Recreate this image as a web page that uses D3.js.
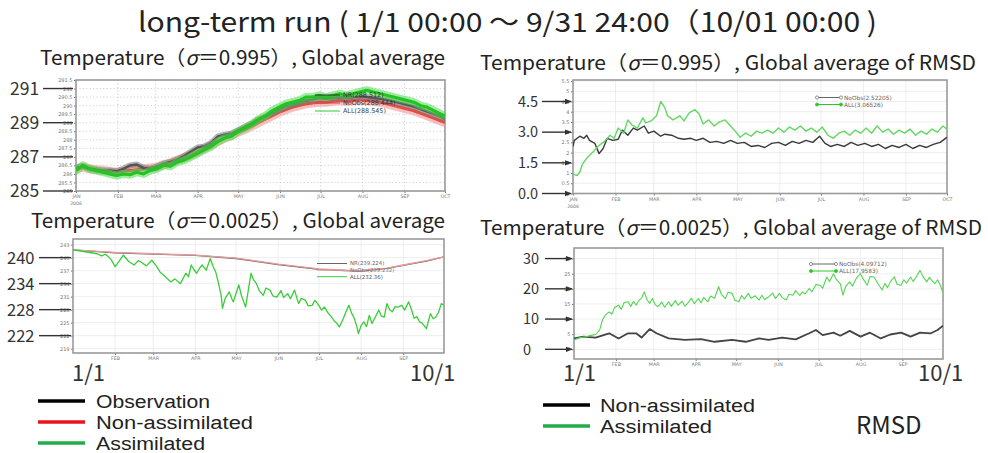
<!DOCTYPE html>
<html>
<head>
<meta charset="utf-8">
<script src="https://cdn.jsdelivr.net/npm/d3@7"></script>
<style>
  body { margin: 0; background: #fff; }
  svg { display: block; font-family: "Noto Sans CJK JP", "Noto Sans", sans-serif; }
</style>
</head>
<body>
<svg id="viz"></svg>
<script>
// ---- data (day = days since 1 Jan 2006) ----
const monthNames = ["JAN", "FEB", "MAR", "APR", "MAY", "JUN", "JUL", "AUG", "SEP", "OCT"];

// sigma = 0.995 temperature, global average (K)
const p1Days = [0, 5, 10, 15, 20, 25, 30, 35, 40, 45, 50, 55, 60, 65, 70, 75, 80, 85, 90, 95, 100, 105, 110, 115, 120, 125, 130, 135,
  140, 145, 150, 155, 160, 165, 170, 175, 180, 185, 190, 195, 200, 205, 210, 215, 220, 225, 230, 235, 240, 245, 250, 255, 260, 265, 270, 273];
const p1NR = [286.35, 286.45, 286.3, 286.25, 286.2, 286.2, 286.15, 286.3, 286.5, 286.55, 286.35, 286.3, 286.45, 286.6, 286.7, 286.85, 287.05,
  287.3, 287.55, 287.6, 287.8, 288.2, 288.3, 288.35, 288.55, 288.75, 288.95, 289.2, 289.35, 289.55, 289.75, 289.95, 290.05, 290.15, 290.3,
  290.35, 290.45, 290.4, 290.45, 290.5, 290.45, 290.5, 290.55, 290.5, 290.45, 290.4, 290.35, 290.25, 290.15, 290.05, 289.95, 289.8, 289.65,
  289.5, 289.35, 289.2];
const p1NoObs = [286.3, 286.4, 286.3, 286.25, 286.2, 286.15, 286.1, 286.15, 286.2, 286.25, 286.3, 286.35, 286.4, 286.55, 286.65, 286.8,
  286.95, 287.1, 287.3, 287.5, 287.7, 287.9, 288.1, 288.25, 288.45, 288.6, 288.8, 289.0, 289.2, 289.4, 289.6, 289.75, 289.9, 290.0, 290.1,
  290.15, 290.2, 290.2, 290.25, 290.3, 290.25, 290.3, 290.35, 290.3, 290.25, 290.2, 290.1, 290.0, 289.9, 289.8, 289.7, 289.55, 289.4,
  289.25, 289.1, 289.0];
const p1All = [286.2, 286.5, 286.3, 286.2, 286.1, 286.0, 285.9, 286.0, 285.95, 286.1, 286.0, 286.2, 286.3, 286.5, 286.45, 286.7, 286.8,
  287.0, 287.2, 287.4, 287.6, 287.9, 288.1, 288.2, 288.5, 288.7, 288.9, 289.2, 289.4, 289.7, 289.9, 290.1, 290.2, 290.3, 290.5, 290.5,
  290.6, 290.5, 290.6, 290.7, 290.6, 290.7, 290.8, 290.9, 290.8, 290.7, 290.6, 290.5, 290.4, 290.3, 290.2, 290.0, 289.9, 289.7, 289.5, 289.4];

// sigma = 0.995, global average of RMSD
const p2NoObs = [[0, 2.3], [1, 2.6], [5, 2.8], [8, 2.7], [10, 2.85], [12, 2.6], [16, 2.45], [19, 1.95], [22, 2.2], [25, 2.7], [29, 2.6],
  [33, 2.65], [36, 3.1], [40, 2.85], [44, 3.2], [47, 3.1], [52, 3.3], [55, 2.95], [59, 3.05], [64, 2.8], [67, 2.9], [72, 2.85], [77, 2.7],
  [81, 2.65], [86, 2.7], [90, 2.6], [95, 2.7], [100, 2.5], [105, 2.55], [110, 2.45], [115, 2.6], [120, 2.45], [125, 2.5], [130, 2.3],
  [135, 2.35], [140, 2.25], [145, 2.45], [150, 2.5], [155, 2.35], [160, 2.55], [165, 2.45], [170, 2.6], [175, 2.5], [180, 2.8], [184, 2.45],
  [188, 2.3], [193, 2.4], [198, 2.3], [203, 2.5], [208, 2.35], [213, 2.45], [218, 2.3], [223, 2.4], [228, 2.2], [233, 2.35], [238, 2.25],
  [243, 2.4], [248, 2.2], [253, 2.35], [258, 2.25], [263, 2.4], [268, 2.5], [273, 2.75]];
const p2All = [[0, 0.95], [3, 0.88], [5, 1.05], [7, 1.45], [11, 1.8], [15, 2.05], [18, 2.3], [23, 2.55], [27, 2.85], [30, 2.7], [33, 3.2],
  [37, 2.95], [40, 3.6], [43, 3.35], [47, 3.2], [51, 3.7], [53, 3.45], [57, 3.55], [61, 3.8], [64, 4.5], [67, 4.2], [69, 3.8], [73, 3.6],
  [78, 3.8], [81, 3.55], [85, 3.95], [89, 4.1], [92, 3.9], [95, 3.4], [99, 3.6], [103, 3.3], [107, 3.5], [111, 3.6], [115, 3.3], [119, 3.0],
  [122, 2.75], [126, 2.95], [130, 2.8], [134, 3.05], [138, 2.95], [142, 3.1], [146, 2.95], [150, 3.2], [154, 3.0], [158, 3.25], [162, 3.1],
  [166, 3.3], [170, 3.05], [174, 3.2], [178, 3.0], [182, 3.25], [186, 2.85], [190, 2.7], [194, 2.95], [198, 3.05], [202, 2.85], [206, 3.1],
  [210, 2.95], [214, 3.2], [218, 2.95], [222, 3.3], [226, 3.0], [230, 3.15], [234, 2.9], [238, 3.1], [242, 2.95], [246, 3.15], [250, 2.85],
  [254, 3.05], [258, 2.9], [262, 3.15], [266, 3.0], [270, 3.3], [273, 3.15]];

// sigma = 0.0025 temperature, global average (K)
const p3NR = [[0, 241.8], [31, 241.1], [60, 240.8], [90, 240.5], [120, 239.8], [151, 238.4], [181, 237.3], [200, 237.0], [212, 236.9],
  [231, 237.5], [243, 238.2], [260, 239.2], [273, 240.2]];
const p3NoObs = [[0, 241.8], [31, 241.2], [60, 240.9], [90, 240.6], [120, 239.9], [151, 238.5], [181, 237.4], [200, 237.1], [212, 237.0],
  [231, 237.6], [243, 238.3], [260, 239.3], [273, 240.2]];
const p3All = [[0, 241.8], [10, 241.3], [18, 240.9], [21, 240.4], [24, 240.8], [28, 239.6], [31, 237.9], [34, 239.2], [37, 240.6], [41, 239.1],
  [45, 238.3], [48, 239.3], [50, 239.0], [54, 238.1], [58, 239.4], [61, 238.2], [64, 236.7], [68, 235.6], [72, 234.4], [75, 235.1],
  [79, 234.0], [83, 236.4], [85, 235.6], [87, 238.3], [89, 237.2], [91, 236.4], [93, 237.5], [95, 238.3], [98, 237.1], [101, 239.8],
  [103, 238.0], [105, 236.7], [107, 234.2], [109, 231.3], [110, 228.3], [112, 230.6], [115, 232.1], [117, 230.4], [118, 229.8],
  [120, 231.8], [122, 233.7], [124, 231.2], [127, 228.6], [129, 232.5], [131, 236.4], [133, 234.8], [135, 234.0], [137, 232.4],
  [140, 231.3], [142, 233.0], [145, 232.5], [147, 231.2], [150, 230.9], [153, 232.4], [155, 230.8], [158, 231.7], [160, 230.5],
  [163, 232.5], [166, 229.4], [168, 230.6], [171, 230.2], [173, 228.9], [176, 229.0], [178, 230.1], [180, 229.4], [183, 227.9],
  [185, 228.6], [188, 227.1], [190, 226.4], [192, 225.5], [194, 224.9], [196, 224.0], [199, 226.0], [201, 227.6], [203, 229.0],
  [205, 227.2], [207, 226.0], [209, 223.9], [210, 222.5], [212, 224.3], [214, 225.2], [216, 224.1], [218, 226.7], [220, 224.8],
  [222, 226.0], [225, 227.9], [227, 226.5], [229, 226.3], [231, 229.4], [233, 228.0], [235, 227.5], [237, 228.7], [239, 228.6],
  [242, 229.0], [244, 227.9], [247, 229.8], [249, 228.1], [251, 226.0], [253, 226.4], [255, 225.2], [257, 224.9], [260, 223.6],
  [263, 227.1], [265, 225.9], [267, 226.3], [269, 227.4], [271, 229.4], [273, 229.0]];

// sigma = 0.0025, global average of RMSD
const p4NoObs = [[0, 3.6], [7, 4.2], [16, 3.9], [26, 5.3], [33, 3.6], [40, 5.3], [46, 5.3], [50, 3.9], [56, 6.7], [61, 5.3], [70, 3.6],
  [82, 3.1], [94, 3.4], [104, 2.5], [117, 3.1], [127, 2.5], [137, 3.6], [144, 3.1], [154, 3.9], [164, 3.3], [174, 5.3], [179, 6.4],
  [184, 4.7], [192, 5.5], [197, 4.5], [204, 6.1], [212, 4.2], [219, 5.5], [227, 3.6], [234, 4.9], [242, 5.5], [249, 4.2], [256, 5.5],
  [264, 5.3], [269, 6.4], [273, 7.8]];
const p4All = [[0, 3.1], [4, 3.8], [9, 4.2], [13, 4.6], [16, 4.9], [19, 6.4], [21, 9.7], [23, 11.2], [26, 12.4], [28, 11.6], [30, 13.8],
  [33, 14.6], [35, 13.2], [37, 15.4], [40, 15.7], [42, 14.2], [44, 15.9], [46, 14.6], [48, 16.2], [50, 17.0], [52, 19.0], [54, 16.4],
  [56, 15.2], [58, 16.8], [60, 14.8], [62, 14.1], [65, 15.6], [67, 13.9], [70, 15.7], [72, 14.2], [75, 16.1], [77, 14.6], [80, 15.9],
  [82, 14.3], [84, 15.2], [87, 16.9], [89, 15.1], [92, 16.8], [94, 15.4], [96, 17.2], [99, 15.7], [101, 17.6], [104, 16.9], [107, 20.7],
  [109, 18.2], [112, 16.8], [114, 18.9], [117, 18.5], [119, 16.2], [122, 15.7], [124, 17.8], [126, 16.6], [129, 18.5], [131, 16.9],
  [134, 17.7], [137, 16.3], [139, 17.9], [141, 16.4], [144, 17.4], [147, 18.6], [149, 16.8], [152, 18.5], [154, 17.1], [157, 16.3],
  [159, 18.2], [162, 17.9], [164, 19.4], [167, 17.8], [169, 19.0], [171, 18.3], [174, 20.1], [176, 19.0], [179, 21.4], [182, 21.2],
  [184, 20.2], [187, 23.9], [189, 22.4], [192, 25.0], [194, 23.1], [197, 21.7], [199, 17.9], [201, 20.8], [204, 22.3], [206, 20.9],
  [209, 23.6], [212, 25.0], [214, 23.2], [217, 21.2], [219, 24.1], [222, 23.9], [225, 21.6], [228, 19.6], [230, 21.8], [232, 20.4],
  [234, 22.3], [237, 24.0], [239, 21.5], [242, 21.2], [244, 23.0], [246, 21.9], [249, 23.9], [251, 22.4], [254, 24.6], [256, 26.1],
  [258, 24.2], [261, 22.3], [263, 23.8], [265, 22.6], [267, 21.7], [269, 23.0], [271, 21.2], [273, 18.7]];

const p1Legend = ["NR(288.512)", "NoObs(288.444)", "ALL(288.545)"];
const p2Legend = ["NoObs(2.52205)", "ALL(3.06526)"];
const p3Legend = ["NR(239.224)", "NoObs(239.232)", "ALL(232.36)"];
const p4Legend = ["NoObs(4.09712)", "ALL(17.9583)"];

const leftKeys = ["Observation", "Non-assimilated", "Assimilated"];
const rightKeys = ["Non-assimilated", "Assimilated"];

// ---- setup ----
const width = 988, height = 453;
const svg = d3.select("#viz").attr("width", width).attr("height", height)
  .attr("viewBox", `0 0 ${width} ${height}`);
svg.append("rect").attr("width", width).attr("height", height).attr("fill", "#fff");

const start = new Date(2006, 0, 1), end = new Date(2006, 9, 1);
const dayDate = d => d3.timeDay.offset(start, d);
const zip = (days, vals) => days.map((d, i) => [d, vals[i]]);

const defs = svg.append("defs");
defs.append("marker").attr("id", "arrow").attr("viewBox", "0 0 10 10")
  .attr("refX", 9).attr("refY", 5).attr("markerWidth", 5).attr("markerHeight", 5)
  .attr("orient", "auto")
  .append("path").attr("d", "M0,1 L10,5 L0,9 z").attr("fill", "#333");

function text(x, y, str, size, opts = {}) {
  const t = svg.append("text").attr("x", x).attr("y", y)
    .attr("font-size", size).attr("fill", opts.fill || "#222")
    .attr("text-anchor", opts.anchor || "start");
  if (opts.family) t.attr("font-family", opts.family);
  if (opts.len) t.attr("textLength", opts.len).attr("lengthAdjust", "spacingAndGlyphs");
  if (opts.sigma) {
    t.append("tspan").text(str[0]);
    t.append("tspan").attr("font-style", "italic").text("σ");
    t.append("tspan").text(str[1]);
  } else t.text(str);
  return t;
}

function panel(cfg) {
  const g = svg.append("g");
  const x = d3.scaleTime().domain([start, end]).range([cfg.x0, cfg.x1]);
  const y = d3.scaleLinear().domain(cfg.yDomain).range([cfg.y1, cfg.y0]);

  // grid
  const months = d3.timeMonth.range(start, d3.timeDay.offset(end, 1));
  g.append("g").selectAll("line").data(months.slice(1, -1)).join("line")
    .attr("x1", d => x(d)).attr("x2", d => x(d)).attr("y1", cfg.y0).attr("y2", cfg.y1)
    .attr("stroke", cfg.gridColor).attr("stroke-width", 0.7).attr("stroke-dasharray", cfg.gridDash);
  g.append("g").selectAll("line").data(cfg.small).join("line")
    .attr("x1", cfg.x0).attr("x2", cfg.x1).attr("y1", d => y(d)).attr("y2", d => y(d))
    .attr("stroke", cfg.gridColor).attr("stroke-width", 0.7).attr("stroke-dasharray", cfg.gridDash);

  // small axes
  const ay = g.append("g").attr("transform", `translate(${cfg.x0},0)`)
    .call(d3.axisLeft(y).tickValues(cfg.small).tickSize(2).tickPadding(1.5).tickFormat(d => String(d)));
  ay.select(".domain").remove();
  ay.selectAll("text").attr("font-size", 5).attr("fill", "#777").attr("font-family", "DejaVu Sans");
  ay.selectAll("line").attr("stroke", "#777");

  const ax = g.append("g").attr("transform", `translate(0,${cfg.y1})`)
    .call(d3.axisBottom(x).tickValues(cfg.monthTicks ? months.slice(cfg.monthTicks[0], cfg.monthTicks[1]) : months)
      .tickSize(2).tickPadding(2).tickFormat(d => monthNames[d.getMonth()]));
  ax.select(".domain").remove();
  ax.selectAll("text").attr("font-size", 4.8).attr("fill", "#777").attr("font-family", "DejaVu Sans");
  ax.selectAll("line").attr("stroke", "#777");
  if (cfg.year) {
    g.append("text").attr("x", cfg.x0).attr("y", cfg.y1 + 14).attr("font-size", 4.6)
      .attr("text-anchor", "middle").attr("fill", "#777").attr("font-family", "DejaVu Sans").text("2006");
  }

  // frame
  g.append("rect").attr("x", cfg.x0).attr("y", cfg.y0)
    .attr("width", cfg.x1 - cfg.x0).attr("height", cfg.y1 - cfg.y0)
    .attr("fill", "none").attr("stroke", "#9a9a9a").attr("stroke-width", 1.6);

  // series
  const clipId = "clip" + cfg.id;
  defs.append("clipPath").attr("id", clipId).append("rect")
    .attr("x", cfg.x0).attr("y", cfg.y0).attr("width", cfg.x1 - cfg.x0).attr("height", cfg.y1 - cfg.y0);
  const line = d3.line().x(d => x(dayDate(d[0]))).y(d => y(d[1]));
  const sg = g.append("g").attr("clip-path", `url(#${clipId})`);
  cfg.series.forEach(s => {
    if (s.halo) {
      sg.append("path").datum(s.data).attr("d", line).attr("fill", "none")
        .attr("stroke", s.halo).attr("stroke-width", s.haloWidth).attr("stroke-opacity", 0.55)
        .attr("stroke-linejoin", "round").attr("stroke-linecap", "round");
    }
    sg.append("path").datum(s.data).attr("d", line).attr("fill", "none")
      .attr("stroke", s.color).attr("stroke-width", s.width).attr("stroke-linejoin", "round");
  });

  // big labels outside the frame, with their pointer lines
  cfg.big.forEach(v => {
    text(cfg.bigX, y(v) + cfg.bigSize * 0.36, cfg.bigFmt(v), cfg.bigSize, { fill: "#333" });
    const l = svg.append("line").attr("x1", cfg.lineX[0]).attr("x2", cfg.lineX[1])
      .attr("y1", y(v)).attr("y2", y(v)).attr("stroke", "#333").attr("stroke-width", 1.4);
    if (cfg.arrow) l.attr("marker-end", "url(#arrow)");
  });

  // in-plot legend
  cfg.legend.forEach((lg, i) => {
    const ly = cfg.legendY + i * cfg.legendStep;
    g.append("line").attr("x1", cfg.legendX[0]).attr("x2", cfg.legendX[1]).attr("y1", ly).attr("y2", ly)
      .attr("stroke", lg.color).attr("stroke-width", 1);
    if (lg.marker) {
      g.selectAll(null).data(cfg.legendX).join("circle").attr("cx", d => d).attr("cy", ly).attr("r", 1.6)
        .attr("fill", lg.marker === "open" ? "#fff" : lg.color).attr("stroke", lg.color).attr("stroke-width", 0.7);
    }
    g.append("text").attr("x", cfg.legendX[1] + 3).attr("y", ly + cfg.legendSize * 0.35).attr("font-size", cfg.legendSize)
      .attr("font-family", "DejaVu Sans").attr("fill", lg.textColor || lg.color).text(lg.label);
  });
  return { x, y };
}

// ---- titles ----
text(138, 32, "long-term run ( 1/1 00:00 ～ 9/31 24:00（10/01 00:00 )", 27, { len: 739, fill: "#222" });
text(40, 65, ["Temperature（", "＝0.995）, Global average"], 20, { len: 405, sigma: true });
text(480, 70, ["Temperature（", "＝0.995）, Global average of RMSD"], 20, { len: 496, sigma: true });
text(31, 228, ["Temperature（", "＝0.0025）, Global average"], 20, { len: 414, sigma: true });
text(480, 235, ["Temperature（", "＝0.0025）, Global average of RMSD"], 20, { len: 502, sigma: true });

// ---- panels ----
panel({
  id: "p1", x0: 76, x1: 445, y0: 80, y1: 191, yDomain: [285, 291.5],
  small: d3.range(285, 291.6, 0.5), big: [285, 287, 289, 291], bigFmt: d => String(d),
  bigX: 10, bigSize: 17.5, lineX: [43, 73], arrow: false, gridColor: "#bbb", gridDash: "1.2,2.2", year: true,
  series: [
    { data: zip(p1Days, p1NoObs), color: "#e0504a", width: 3, halo: "#f08a86", haloWidth: 9 },
    { data: zip(p1Days, p1NR), color: "#555", width: 2.5, halo: "#777", haloWidth: 6 },
    { data: zip(p1Days, p1All), color: "#22c322", width: 3, halo: "#4fdc4f", haloWidth: 8 }
  ],
  legend: [
    { label: p1Legend[0], color: "#333" },
    { label: p1Legend[1], color: "#d04040", textColor: "#333" },
    { label: p1Legend[2], color: "#33cc33", textColor: "#444" }
  ],
  legendX: [315, 340], legendY: 95, legendStep: 8, legendSize: 6.4
});

panel({
  id: "p2", x0: 573, x1: 947, y0: 80, y1: 193.5, yDomain: [0, 5.55],
  small: d3.range(0, 5.6, 0.5), big: [0, 1.5, 3, 4.5], bigFmt: d3.format(".1f"),
  bigX: 518, bigSize: 14.5, lineX: [542, 571], arrow: true, gridColor: "#e6e6e6", gridDash: null, year: true,
  series: [
    { data: p2NoObs, color: "#3a3a3a", width: 1.4 },
    { data: p2All, color: "#62d862", width: 1.4 }
  ],
  legend: [
    { label: p2Legend[0], color: "#666", marker: "open" },
    { label: p2Legend[1], color: "#2ec42e", marker: "filled", textColor: "#666" }
  ],
  legendX: [817, 841], legendY: 97.5, legendStep: 7, legendSize: 5.8
});

panel({
  id: "p3", x0: 73, x1: 444, y0: 239, y1: 353, yDomain: [218, 244.3],
  small: d3.range(219, 244, 3), big: [222, 228, 234, 240], bigFmt: d => String(d),
  bigX: 7, bigSize: 16.5, lineX: [39, 71], arrow: false, gridColor: "#e6e6e6", gridDash: null, year: false,
  monthTicks: [1, 9],
  series: [
    { data: p3NR, color: "#666", width: 1.3 },
    { data: p3NoObs, color: "#e89a9a", width: 1.3 },
    { data: p3All, color: "#3acd3a", width: 1.3 }
  ],
  legend: [
    { label: p3Legend[0], color: "#666" },
    { label: p3Legend[1], color: "#e89a9a", textColor: "#777" },
    { label: p3Legend[2], color: "#3acd3a", textColor: "#555" }
  ],
  legendX: [317, 347], legendY: 263.5, legendStep: 6.6, legendSize: 5.4
});

panel({
  id: "p4", x0: 574, x1: 943, y0: 248, y1: 359, yDomain: [-3.2, 33.5],
  small: d3.range(0, 31, 5), big: [0, 10, 20, 30], bigFmt: d => String(d),
  bigX: 523, bigSize: 14.5, lineX: [545, 572], arrow: true, gridColor: "#e8e8e8", gridDash: null, year: false,
  monthTicks: [1, 9],
  series: [
    { data: p4NoObs, color: "#444", width: 1.8 },
    { data: p4All, color: "#52d652", width: 1.1 }
  ],
  legend: [
    { label: p4Legend[0], color: "#666", marker: "open" },
    { label: p4Legend[1], color: "#2ec42e", marker: "filled", textColor: "#666" }
  ],
  legendX: [811, 836], legendY: 264, legendStep: 7, legendSize: 5.8
});

// ---- date markers under the lower panels ----
text(72, 381, "1/1", 22, { fill: "#333" });
text(410, 381, "10/1", 22, { fill: "#333" });
text(563, 381, "1/1", 22, { fill: "#333" });
text(918, 381, "10/1", 22, { fill: "#333" });

// ---- bottom legends ----
const keyFont = "'Liberation Sans', Arial, sans-serif";
const leftColors = ["#000", "#e8141e", "#1fae4a"];
const leftLens = [114, 157, 109];
leftKeys.forEach((k, i) => {
  const ly = 401 + i * 21;
  svg.append("line").attr("x1", 38).attr("x2", 85).attr("y1", ly).attr("y2", ly)
    .attr("stroke", leftColors[i]).attr("stroke-width", 3.5);
  text(96, ly + 6.5, k, 18, { fill: "#222", family: keyFont, len: leftLens[i] });
});
const rightColors = ["#000", "#1fae4a"];
const rightLens = [155, 112];
rightKeys.forEach((k, i) => {
  const ly = 405 + i * 21;
  svg.append("line").attr("x1", 543).attr("x2", 590).attr("y1", ly).attr("y2", ly)
    .attr("stroke", rightColors[i]).attr("stroke-width", 3.5);
  text(600, ly + 6.5, k, 18, { fill: "#222", family: keyFont, len: rightLens[i] });
});
text(856, 434, "RMSD", 24, { fill: "#222" });
</script>
</body>
</html>
